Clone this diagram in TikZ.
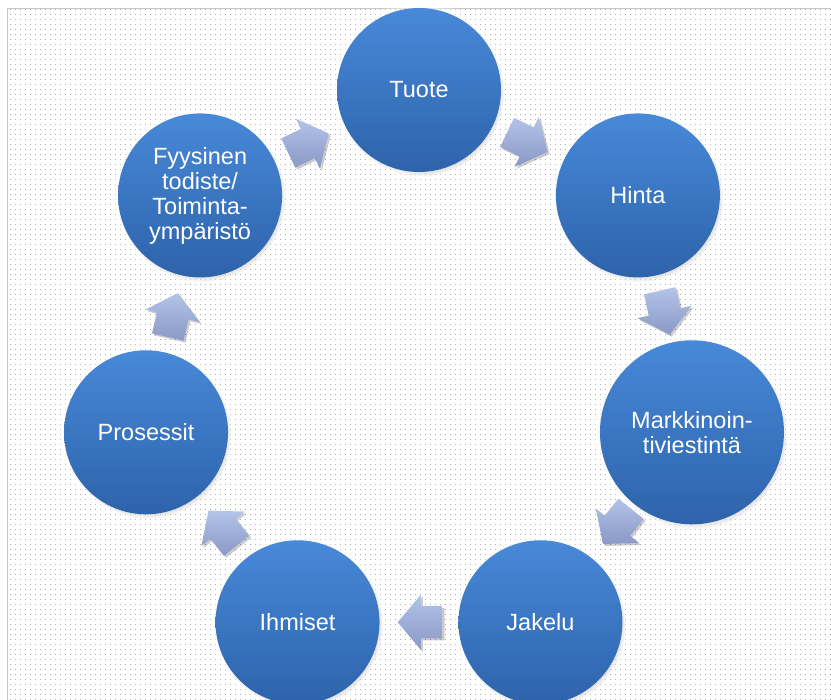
\documentclass[tikz,border=0pt]{standalone}
\usepackage{fontspec}
\setmainfont{Liberation Sans}
\usetikzlibrary{shapes.arrows, shadows, patterns, calc}

% motif de points pour le fond
\pgfdeclarepatternformonly{pointilles}{\pgfqpoint{-1pt}{-1pt}}{\pgfqpoint{2pt}{2pt}}{\pgfqpoint{5pt}{5pt}}{%
	\pgfpathrectangle{\pgfqpoint{0pt}{0pt}}{\pgfqpoint{.85pt}{.85pt}}\pgfusepath{fill}}

\definecolor{bleuhaut}{RGB}{72,137,217}
\definecolor{bleubas}{RGB}{45,99,170}
\definecolor{flechehaut}{RGB}{180,195,232}
\definecolor{flechebas}{RGB}{138,153,198}

\tikzset{
	etape/.style={circle, minimum size=164pt, inner sep=0pt, text=white, align=center,
		top color=bleuhaut, bottom color=bleubas,
		font=\fontsize{23.5}{25}\selectfont,
		circular glow={fill=white, opacity=.9, shadow scale=1.1},
		circular drop shadow={fill=black, opacity=.25, shadow scale=1.02, shadow xshift=2pt, shadow yshift=-3pt}},
	fleche/.style={single arrow, minimum height=45pt, inner xsep=0pt, inner ysep=16pt,
		single arrow head extend=11.5pt, single arrow tip angle=100,
		top color=flechehaut, bottom color=flechebas,
		drop shadow={fill=black, opacity=.2, shadow xshift=2pt, shadow yshift=-2pt}}
}

\begin{document}
\begin{tikzpicture}[x=1pt, y=1pt]
	% fond pointillé et cadre
	\useasboundingbox (0,0) rectangle (831,700);
	\fill[pattern=pointilles, pattern color=gray!65] (7.5,0) rectangle (831,691.5);
	\draw[gray!45, line width=1pt] (7.5,0) -- (7.5,691.5) -- (831,691.5);

	% les sept étapes sur le cercle
	\coordinate (centre) at (419,330);
	\node[etape] (tuote) at ($(centre)+(90:280)$) {Tuote};
	\node[etape] (hinta) at ($(centre)+(38.57:280)$) {Hinta};
	\node[etape, minimum size=184pt] (markkinointi) at ($(centre)+(-12.86:280)$) {Markkinoin-\\tiviestintä};
	\node[etape] (jakelu) at ($(centre)+(-64.29:280)$) {Jakelu};
	\node[etape] (ihmiset) at ($(centre)+(-115.71:280)$) {Ihmiset};
	\node[etape] (prosessit) at ($(centre)+(-167.14:280)$) {Prosessit};
	\node[etape] (fyysinen) at ($(centre)+(141.43:280)$) {Fyysinen\\todiste/\\Toiminta-\\ympäristö};

	% flèches entre les étapes
	\foreach \a/\b/\ang in {fyysinen/tuote/25.71, tuote/hinta/-25.71, hinta/markkinointi/-77.14,
		markkinointi/jakelu/-128.57, jakelu/ihmiset/180, ihmiset/prosessit/128.57, prosessit/fyysinen/77.14} {
		\coordinate (m-\a) at ($(\a)!0.5!(\b)$);
		\node[fleche, rotate=\ang] (f-\a) at ($(m-\a)!8pt!(\a)$) {};
	}
\end{tikzpicture}
\end{document}
